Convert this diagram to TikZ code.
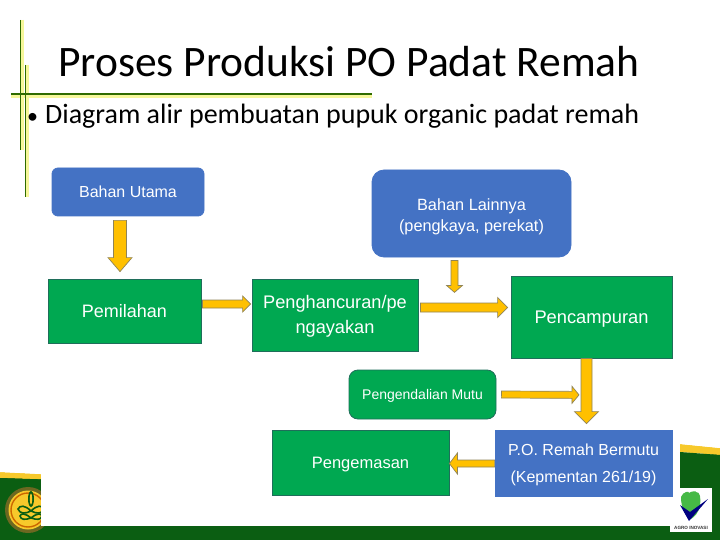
\documentclass[tikz,border=0pt]{standalone}
\usepackage{fontspec}
\setmainfont{Liberation Sans}
\newfontfamily\slidefont{Carlito}
\usetikzlibrary{calc}
\definecolor{boxblue}{HTML}{4472C4}
\definecolor{boxgreen}{HTML}{00A851}
\definecolor{boxedge}{HTML}{1F6E5A}
\definecolor{arrowfill}{HTML}{FFC000}
\definecolor{arrowedge}{HTML}{8F8458}
\definecolor{banddark}{HTML}{0B5E12}
\definecolor{bandyellow}{HTML}{F7C92B}
\definecolor{rulegreen}{HTML}{2F6B00}
\definecolor{ruleglow}{HTML}{F6F79A}
\tikzset{
  boxbase/.style={inner sep=0pt,align=center,text=white,font=\fontsize{16}{25}\selectfont,line width=.8pt},
  bluebox/.style={boxbase,draw=boxblue,fill=boxblue},
  greenbox/.style={boxbase,draw=boxedge,fill=boxgreen},
  blockarrow/.style n args={3}{draw=arrowedge,fill=arrowfill,line width=.7pt,line join=miter,
    to path={
      coordinate (tA) (\tikztotarget) coordinate (tB)
      ($(tB)!#3!(tA)$) coordinate (tH)
      ($(tA)!#1!90:(tB)$) -- ($(tH)!#1!-90:(tA)$) -- ($(tH)!#2!-90:(tA)$) -- (tB)
      -- ($(tH)!#2!90:(tA)$) -- ($(tH)!#1!90:(tA)$) -- ($(tA)!#1!-90:(tB)$) -- cycle
    }},
  glowline/.style={ruleglow,line width=4pt},
  ruleline/.style={rulegreen,line width=1.3pt},
  slidetext/.style={inner sep=0pt,anchor=base west,text=black}
}
\newcommand{\lift}[1]{\rule{0pt}{#1pt}}
\begin{document}
\begin{tikzpicture}[x=1pt,y=-1pt]
\useasboundingbox (0,0) rectangle (720,540);
\fill[white] (0,0) rectangle (720,540);
\draw[gray!70,line width=1pt] (0.5,540) -- (0.5,0.5) -- (720,0.5);
% bottom band
\fill[banddark] (0,478) -- (720,454) -- (720,540) -- (0,540) -- cycle;
\fill[bandyellow] (0,472) -- (60,475) -- (60,480) -- (0,478) -- cycle;
\fill[bandyellow] (680,444) -- (720,448) -- (720,455) -- (680,452) -- cycle;
\fill[banddark] (0,478) -- (60,480) -- (60,520) -- (0,520) -- cycle;
\fill[banddark] (680,452) -- (720,455) -- (720,500) -- (680,500) -- cycle;
\fill[white] (0,0) -- (0,472) -- (60,475) -- (60,440) -- (680,440) -- (680,444) -- (720,448) -- (720,0) -- cycle;
% left emblem
\fill[olive!70!black] (28,510) circle (23);
\fill[bandyellow] (28,510) circle (19.5);
\draw[orange!80!black,line width=1.4pt] (28,510) circle (17);
\fill[banddark] (31,499) ellipse (3 and 8);
\fill[bandyellow] (31,499) ellipse (1.2 and 5.5);
\foreach \s in {-1,1}{
  \draw[banddark,line width=1.6pt] (31,511) .. controls (31+\s*6,505) and (31+\s*11,505) .. (31+\s*13,509) .. controls (31+\s*11,514) and (31+\s*6,514) .. (31,511);
  \draw[banddark,line width=1.6pt] (31,518) .. controls (31+\s*6,513) and (31+\s*10,513) .. (31+\s*11,516) .. controls (31+\s*10,520) and (31+\s*6,520) .. (31,518);
}
\fill[white] (41,440) rectangle (680,526);
% right logo
\fill[white] (670,488) rectangle (712,532);
\fill[green!45!gray] (681,497) .. controls (683,491) and (690,491) .. (689,493) .. controls (691,491) and (697,491) .. (696,492) .. controls (700,492) and (701,497) .. (700,505) .. controls (699,513) and (694,517) .. (691,519) .. controls (685,515) and (681,508) .. (681,497) -- cycle;
\fill[blue!50!black] (680,505) -- (689,521) -- (708,499) -- (690,512) -- cycle;
\node[inner sep=0pt,text=black!80] (agro) at (691,527.5) {\fontsize{4.6}{5}\selectfont\bfseries AGRO INOVASI};
% rules
\draw[glowline] (22,20) -- (22,150);
\draw[glowline] (27,65) -- (27,197);
\draw[glowline] (11,96) -- (372,96);
\draw[ruleline] (20.5,20) -- (20.5,150);
\draw[ruleline] (25.5,65) -- (25.5,197);
\draw[ruleline] (11,94) -- (372,94);
% headings
\node[slidetext] (title) at (58,77) {\slidefont\fontsize{43.5}{46}\selectfont Proses Produksi PO Padat Remah};
\node[slidetext] (bullet) at (27,124) {\slidefont\fontsize{22}{24}\selectfont •};
\node[slidetext] (sub) at (45,124) {\slidefont\fontsize{28}{30}\selectfont Diagram alir pembuatan pupuk organic padat remah};
% boxes
\node[bluebox,rounded corners=6pt,minimum width=152pt,minimum height=48pt] (utama) at (128,192) {\lift{12}Bahan Utama};
\node[bluebox,rounded corners=12pt,minimum width=199pt,minimum height=87pt,font=\fontsize{16.3}{25}\selectfont] (lain) at (471.5,213.5) {\lift{18}Bahan Lainnya\\[-4pt](pengkaya, perekat)};
\node[greenbox,minimum width=153pt,minimum height=64pt,font=\fontsize{18}{22}\selectfont] (pilah) at (124.5,311) {\lift{13}Pemilahan};
\node[greenbox,minimum width=166pt,minimum height=72pt,font=\fontsize{18.2}{25}\selectfont] (hancur) at (335,315) {\lift{16}Penghancuran/pe\\ngayakan};
\node[greenbox,minimum width=161pt,minimum height=82pt,font=\fontsize{18.3}{22}\selectfont] (campur) at (591.5,317) {\lift{16.5}Pencampuran};
\node[greenbox,rounded corners=9pt,minimum width=147pt,minimum height=49pt,font=\fontsize{14}{16}\selectfont] (mutu) at (422.5,394.5) {\lift{12.5}Pengendalian Mutu};
\node[bluebox,minimum width=177pt,minimum height=66pt,font=\fontsize{16}{25}\selectfont] (po) at (583.5,463) {\lift{15}P.O. Remah Bermutu\\[2pt](Kepmentan 261/19)};
\node[greenbox,minimum width=177pt,minimum height=65pt,font=\fontsize{16.5}{20}\selectfont] (emas) at (360.5,462.5) {\lift{15}Pengemasan};
% connectors
\draw[blockarrow={6.5pt}{12pt}{14pt}] ($(utama.south)+(-8,4)$) to ($(pilah.north)+(-4.5,-7)$);
\draw[blockarrow={3.5pt}{8pt}{7pt}] ($(lain.south)+(-17,3)$) to ($(lain.south)+(-17,35)$);
\draw[blockarrow={4pt}{8pt}{8pt}] ($(pilah.east)+(1,-7)$) to ($(hancur.west)+(-1,-11)$);
\draw[blockarrow={4.5pt}{10pt}{10pt}] ($(hancur.east)+(2,-7.5)$) to ($(campur.west)+(-3,-9.5)$);
\draw[blockarrow={5.5pt}{12pt}{12pt}] ($(campur.south)+(-5,0)$) to ($(po.north)+(3,-6)$);
\draw[blockarrow={3.5pt}{8.5pt}{7pt}] ($(mutu.east)+(5,0)$) to ($(campur.south)+(-12.5,36.5)$);
\draw[blockarrow={3.5pt}{10.5pt}{8pt}] ($(po.west)+(0,0.5)$) to ($(emas.east)+(0,1)$);
\end{tikzpicture}
\end{document}
